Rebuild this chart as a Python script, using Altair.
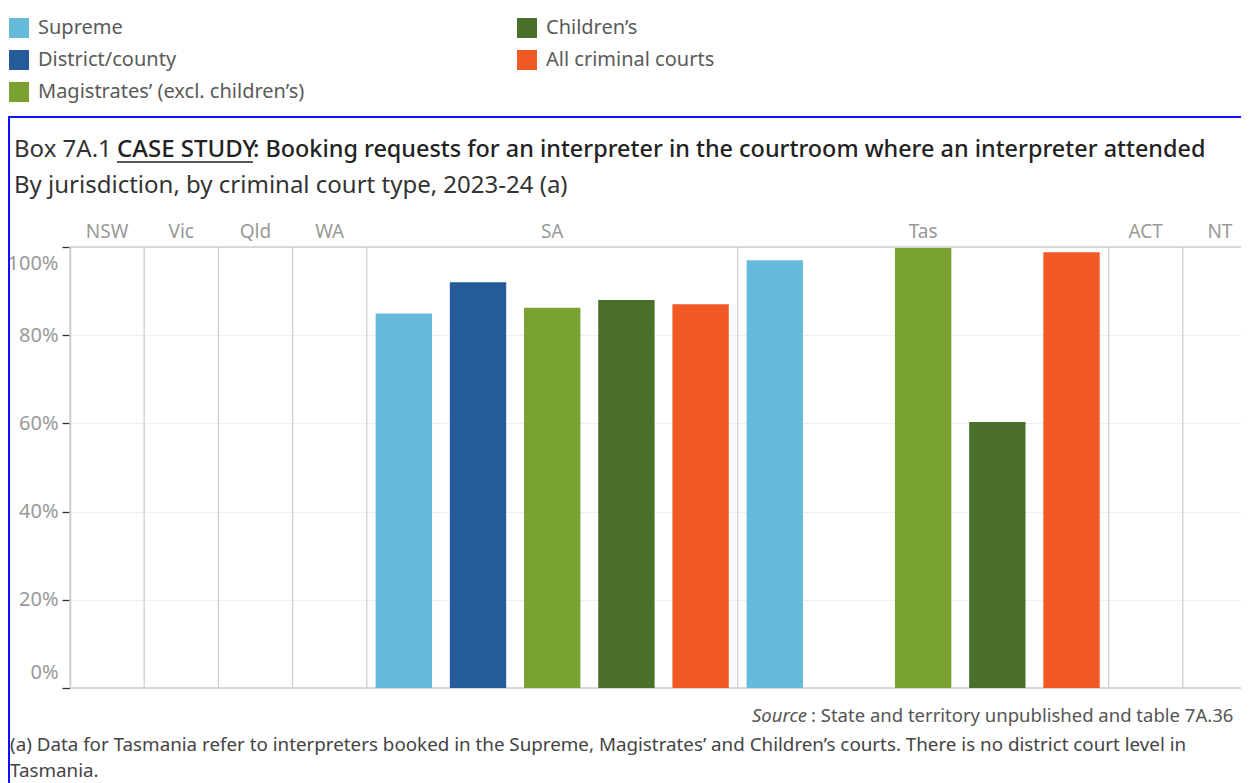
import altair as alt
import pandas as pd

# ---------------- data ----------------
jurisdictions = ["NSW", "Vic", "Qld", "WA", "SA", "Tas", "ACT", "NT"]
courts = ["Supreme", "District/county", "Magistrates’ (excl. children’s)",
          "Children’s", "All criminal courts"]
court_colors = ["#66bbdb", "#265b99", "#7aa232", "#4b7029", "#f15a24"]
sa_values = [84.9, 92.0, 86.2, 88.0, 87.0]
tas_values = [97.0, None, 99.8, 60.3, 98.8]
y_ticks = [0, 20, 40, 60, 80, 100]

reported = {"SA": sa_values, "Tas": tas_values}

slots, bar_rows, sep_rows, head_rows = [], [], [], []
for j in jurisdictions:
    if j in reported:
        js = [f"{j} | {c}" for c in courts]
        for c, v, s in zip(courts, reported[j], js):
            if v is not None:
                bar_rows.append({"jurisdiction": j, "court": c, "slot": s, "value": v})
    else:
        js = [f"{j} |"]
    slots.extend(js)
    sep_rows.append({"slot": js[0]})
    head_rows.append({"slot": js[len(js) // 2], "label": j})

bars_df = pd.DataFrame(bar_rows)
seps_df = pd.DataFrame(sep_rows)
heads_df = pd.DataFrame(head_rows)
edges_df = pd.DataFrame({"v": [0, 100]})
one = pd.DataFrame({"a": [0]})

FONT = "Noto Sans"

xscale = alt.Scale(type="band", domain=slots, range=[0, 1187], paddingInner=0, paddingOuter=0)
yscale = alt.Scale(domain=[0, 100], nice=False)
yaxis = alt.Axis(values=y_ticks, labelExpr="datum.value + '%'", grid=True,
                 gridColor="#efefef", gridWidth=1, domainColor="#cccccc", domainWidth=1.5,
                 tickColor="#333333", tickSize=8, tickWidth=1.3, labelColor="#999999",
                 labelFontSize=20, labelFont=FONT, labelPadding=4, labelFlush=True,
                 labelFlushOffset=-6, title=None)

border = alt.Chart(one).mark_rect(fillOpacity=0, stroke="#1010ff", strokeWidth=2).encode(
    x=alt.value(-61), x2=alt.value(1300), y=alt.value(-130), y2=alt.value(700))

edges = alt.Chart(edges_df).mark_rule(color="#cccccc", strokeWidth=1.5).encode(
    y=alt.Y("v:Q", scale=yscale, axis=yaxis))

seps = alt.Chart(seps_df).mark_rule(color="#d0d0d0", strokeWidth=1.3).encode(
    x=alt.X("slot:N", scale=xscale, bandPosition=0, axis=None))

bars = alt.Chart(bars_df).mark_bar(width=alt.RelativeBandSize(0.76)).encode(
    x=alt.X("slot:N", scale=xscale, axis=None),
    y=alt.Y("value:Q", scale=yscale, axis=yaxis),
    color=alt.Color("court:N",
                    scale=alt.Scale(domain=courts, range=court_colors),
                    legend=alt.Legend(orient="none", legendX=-61, legendY=-229, columns=2,
                                      columnPadding=212, rowPadding=12, symbolType="square",
                                      symbolSize=400, symbolStrokeWidth=0, symbolOpacity=1,
                                      labelFontSize=20, labelFont=FONT, labelColor="#5a5a5a",
                                      labelOffset=9, labelLimit=500, title=None, padding=0)),
)

heads = alt.Chart(heads_df).mark_text(font=FONT, fontSize=19, color="#999999",
                                      baseline="middle", align="center").encode(
    x=alt.X("slot:N", scale=xscale, axis=None), y=alt.value(-15), text="label:N")


def txt(s, x, y, size=20, color="#333333", weight="normal", style="normal"):
    return alt.Chart(one).mark_text(text=s, font=FONT, fontSize=size, color=color,
                                    fontWeight=weight, fontStyle=style,
                                    align="left", baseline="middle").encode(
        x=alt.value(x), y=alt.value(y))


title1 = txt("Box 7A.1", -56, -97, 24, "#333333")
title2 = txt("CASE STUDY", 47, -97, 24, "#222222", 500)
title3 = txt(": Booking requests for an interpreter in the courtroom where an interpreter attended",
             183, -97, 23.4, "#222222", 500)
underline = alt.Chart(one).mark_rule(color="#222222", strokeWidth=1.5).encode(
    x=alt.value(47), x2=alt.value(183), y=alt.value(-85))
subtitle = txt("By jurisdiction, by criminal court type, 2023-24 (a)", -56, -61, 24, "#333333")
source1 = txt("Source", 682, 469, 18.5, "#555555", style="italic")
source2 = txt(": State and territory unpublished and table 7A.36", 741, 469, 18.5, "#555555")
foot1 = txt("(a) Data for Tasmania refer to interpreters booked in the Supreme, Magistrates’ "
            "and Children’s courts. There is no district court level in", -60, 498, 18.8, "#444444")
foot2 = txt("Tasmania.", -60, 524, 18.8, "#444444")

chart = alt.layer(
    border, edges, seps, bars, heads,
    title1, title2, title3, underline, subtitle, source1, source2, foot1, foot2,
).properties(
    width=1171, height=441,
    padding={"left": 62, "top": 239, "right": 0, "bottom": 95},
    autosize=alt.AutoSizeParams(type="none"),
).configure_view(stroke=None).configure(background="white")

chart.save("out.html", embed_options={"renderer": "svg", "actions": False})
